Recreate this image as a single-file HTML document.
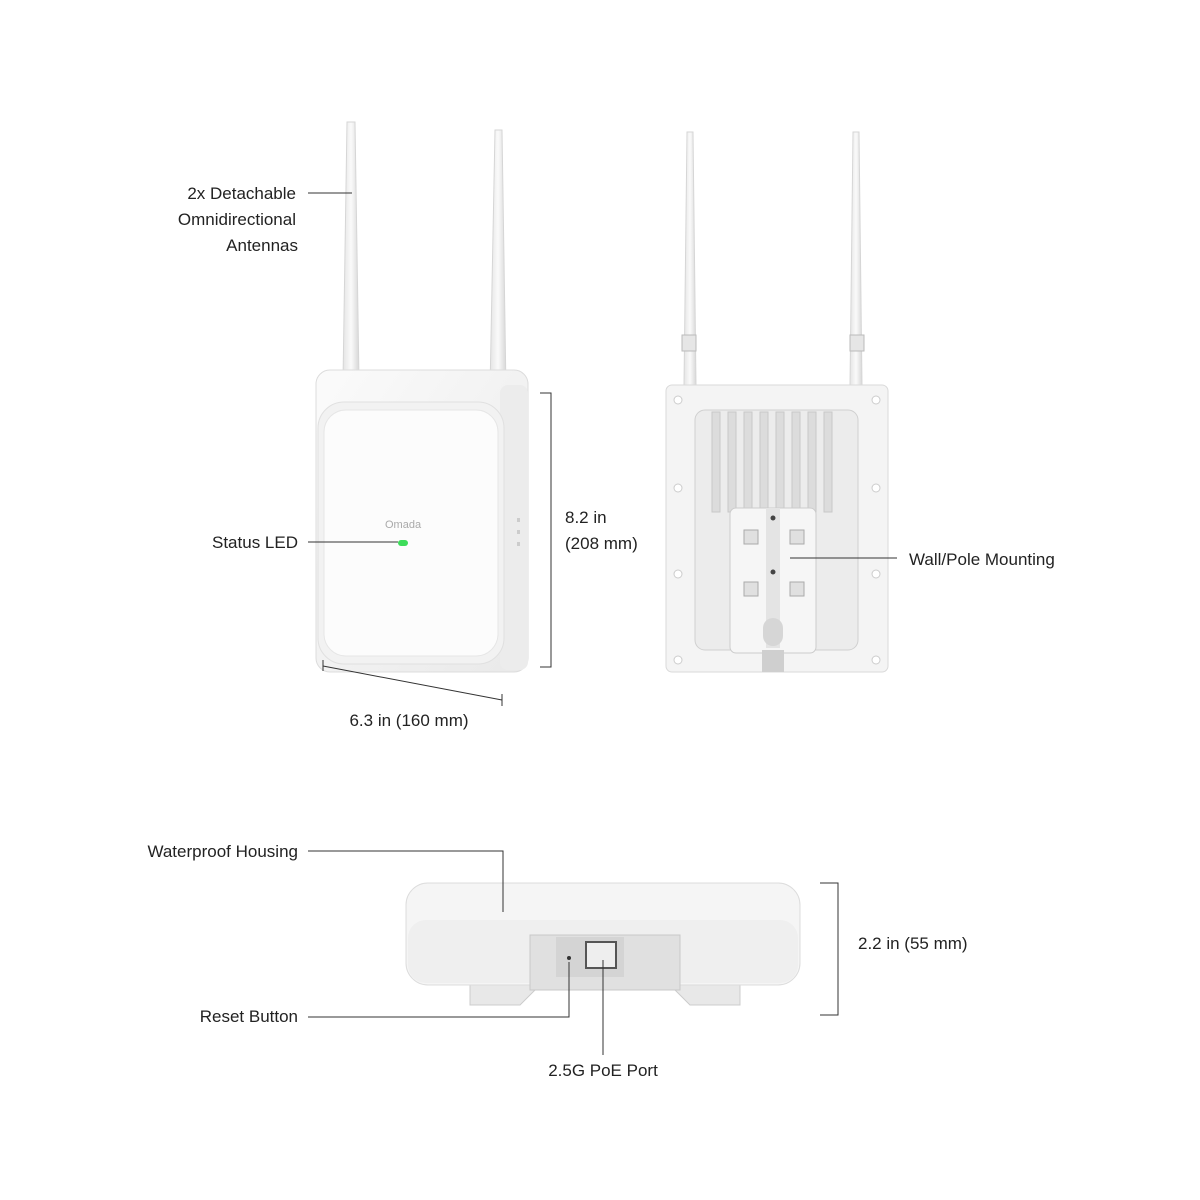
<!DOCTYPE html>
<html><head><meta charset="utf-8"><style>
html,body{margin:0;padding:0;background:#fff;}
svg{display:block}
text{font-family:"Liberation Sans",sans-serif;font-size:17px;fill:#222;}
</style></head><body>
<svg width="1200" height="1200" viewBox="0 0 1200 1200" xmlns="http://www.w3.org/2000/svg">
<defs>
<linearGradient id="ant" x1="0" x2="1"><stop offset="0" stop-color="#e4e4e4"/><stop offset="0.5" stop-color="#fafafa"/><stop offset="1" stop-color="#d8d8d8"/></linearGradient>
<linearGradient id="body" x1="0" y1="0" x2="1" y2="1"><stop offset="0" stop-color="#fbfbfb"/><stop offset="1" stop-color="#e9e9e9"/></linearGradient>
</defs>
<!-- FRONT DEVICE -->
<path d="M347 122 L355 122 L359 380 L343 380 Z" fill="url(#ant)" stroke="#d6d6d6"/>
<path d="M495 130 L502 130 L506 390 L490 390 Z" fill="url(#ant)" stroke="#d6d6d6"/>
<rect x="316" y="370" width="212" height="302" rx="14" fill="url(#body)" stroke="#dcdcdc"/>
<rect x="500" y="385" width="28" height="285" rx="8" fill="#ececec"/>
<rect x="318" y="402" width="186" height="262" rx="26" fill="#f2f2f2" stroke="#e0e0e0"/>
<rect x="324" y="410" width="174" height="246" rx="22" fill="#fcfcfc" stroke="#e6e6e6"/>
<text x="385" y="528" style="font-size:11px;fill:#aaa">Omada</text>
<rect x="398" y="540" width="10" height="6" rx="3" fill="#3ddc5a"/>
<rect x="517" y="518" width="3" height="4" fill="#ccc"/><rect x="517" y="530" width="3" height="4" fill="#ccc"/><rect x="517" y="542" width="3" height="4" fill="#ccc"/>
<!-- BACK DEVICE -->
<path d="M687 132 L693 132 L696 385 L684 385 Z" fill="url(#ant)" stroke="#d6d6d6"/>
<path d="M853 132 L859 132 L862 385 L850 385 Z" fill="url(#ant)" stroke="#d6d6d6"/>
<rect x="682" y="335" width="14" height="16" fill="#e6e6e6" stroke="#bbb"/>
<rect x="850" y="335" width="14" height="16" fill="#e6e6e6" stroke="#bbb"/>
<rect x="666" y="385" width="222" height="287" rx="6" fill="#f4f4f4" stroke="#dadada"/>
<rect x="695" y="410" width="163" height="240" rx="10" fill="#ececec" stroke="#d0d0d0"/>
<g fill="#dcdcdc" stroke="#c8c8c8">
<rect x="712" y="412" width="8" height="100"/><rect x="728" y="412" width="8" height="100"/><rect x="744" y="412" width="8" height="100"/><rect x="760" y="412" width="8" height="100"/><rect x="776" y="412" width="8" height="100"/><rect x="792" y="412" width="8" height="100"/><rect x="808" y="412" width="8" height="100"/><rect x="824" y="412" width="8" height="100"/>
</g>
<rect x="730" y="508" width="86" height="145" rx="6" fill="#f6f6f6" stroke="#ccc"/>
<rect x="766" y="508" width="14" height="140" fill="#e4e4e4"/>
<rect x="744" y="530" width="14" height="14" fill="#e0e0e0" stroke="#aaa"/><rect x="790" y="530" width="14" height="14" fill="#e0e0e0" stroke="#aaa"/>
<rect x="744" y="582" width="14" height="14" fill="#e0e0e0" stroke="#aaa"/><rect x="790" y="582" width="14" height="14" fill="#e0e0e0" stroke="#aaa"/>
<circle cx="773" cy="518" r="2.5" fill="#444"/><circle cx="773" cy="572" r="2.5" fill="#444"/>
<rect x="763" y="618" width="20" height="28" rx="10" fill="#d6d6d6"/>
<rect x="762" y="650" width="22" height="22" fill="#cfcfcf"/>
<g fill="#fff" stroke="#ccc"><circle cx="678" cy="400" r="4"/><circle cx="876" cy="400" r="4"/><circle cx="678" cy="488" r="4"/><circle cx="876" cy="488" r="4"/><circle cx="678" cy="574" r="4"/><circle cx="876" cy="574" r="4"/><circle cx="678" cy="660" r="4"/><circle cx="876" cy="660" r="4"/></g>
<!-- BOTTOM DEVICE -->
<path d="M470 980 L470 1005 L520 1005 L540 985 L670 985 L690 1005 L740 1005 L740 980 Z" fill="#e8e8e8" stroke="#ccc"/>
<rect x="406" y="883" width="394" height="102" rx="22" fill="#f5f5f5" stroke="#dcdcdc"/>
<rect x="408" y="920" width="390" height="63" rx="18" fill="#efefef"/>
<rect x="530" y="935" width="150" height="55" fill="#e0e0e0" stroke="#c8c8c8"/>
<rect x="556" y="937" width="68" height="40" fill="#d4d4d4"/>
<rect x="586" y="942" width="30" height="26" fill="#eee" stroke="#555" stroke-width="2"/>
<circle cx="569" cy="958" r="2" fill="#333"/>
<!-- LABEL LINES -->
<g stroke="#333" stroke-width="1" fill="none">
<line x1="308" y1="193" x2="352" y2="193"/>
<line x1="308" y1="542" x2="398" y2="542"/>
<path d="M540 393 H551 V667 H540"/>
<line x1="323" y1="660" x2="323" y2="671"/><line x1="323" y1="666" x2="502" y2="700"/><line x1="502" y1="694" x2="502" y2="706"/>
<line x1="790" y1="558" x2="897" y2="558"/>
<path d="M308 851 H503 V912"/>
<path d="M308 1017 H569 V962"/>
<line x1="603" y1="960" x2="603" y2="1055"/>
<path d="M820 883 H838 V1015 H820"/>
</g>
<!-- TEXT -->
<text x="296" y="199" text-anchor="end">2x Detachable</text>
<text x="296" y="225" text-anchor="end">Omnidirectional</text>
<text x="298" y="251" text-anchor="end">Antennas</text>
<text x="298" y="548" text-anchor="end">Status LED</text>
<text x="565" y="523">8.2 in</text>
<text x="565" y="549">(208 mm)</text>
<text x="409" y="726" text-anchor="middle">6.3 in (160 mm)</text>
<text x="909" y="565">Wall/Pole Mounting</text>
<text x="298" y="857" text-anchor="end">Waterproof Housing</text>
<text x="298" y="1022" text-anchor="end">Reset Button</text>
<text x="603" y="1076" text-anchor="middle">2.5G PoE Port</text>
<text x="858" y="949">2.2 in (55 mm)</text>
</svg>
</body></html>
